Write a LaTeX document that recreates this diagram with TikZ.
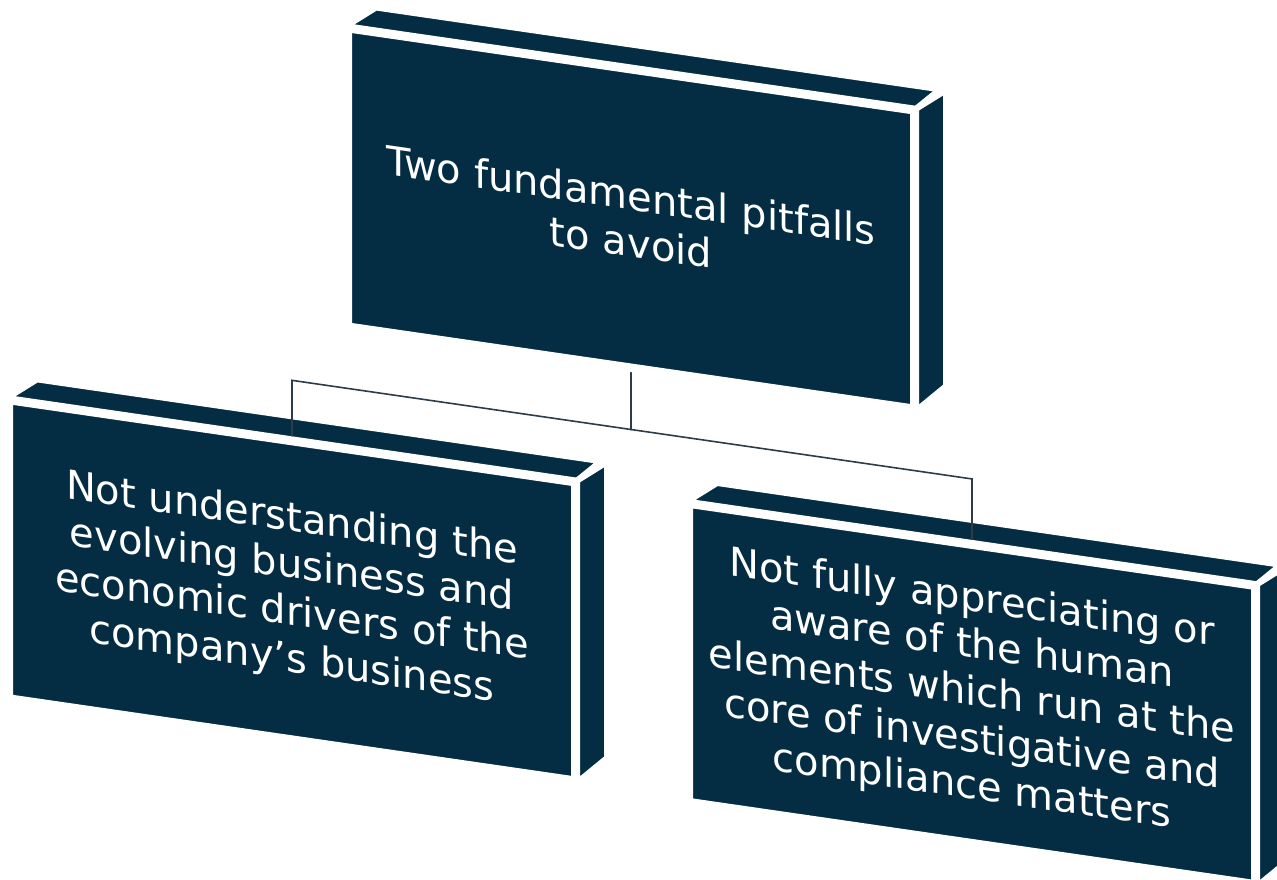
\documentclass[tikz,border=0pt]{standalone}
\usepackage{fontspec}
\setmainfont{DejaVu Sans}
\definecolor{navy}{RGB}{4,45,67}
\definecolor{linkgray}{RGB}{45,60,70}

\begin{document}
\begin{tikzpicture}[
    x=0.5pt, y=0.5pt,
    every node/.style={font=\fontsize{20}{23.5}\selectfont},
    box/.style={fill=navy, draw=white, line width=3pt, line join=round, text=white, align=center,
                minimum width=282pt, minimum height=148pt, transform shape},
    side/.style={fill=navy, draw=white, line width=3pt, line join=round},
    link/.style={draw=linkgray, line width=0.8pt, shorten <=1.5pt, shorten >=1.5pt}
]
\useasboundingbox (0,0) rectangle (1277,879);
\clip (0,0) rectangle (1277,879);

\begin{scope}[yslant=-0.145]

% top box
\node[box] (root) at (631,752) {Two fundamental pitfalls\\to avoid};
\draw[side] (root.north west) -- ++(30,23) -- ++(564,0) -- (root.north east) -- cycle;
\draw[side] (root.north east) -- ++(30,23) -- ++(0,-296) -- (root.south east) -- cycle;

% left box
\node[box] (biz) at (292,331) {Not understanding the\\evolving business and\\economic drivers of the\\company’s business};
\draw[side] (biz.north west) -- ++(30,23) -- ++(564,0) -- (biz.north east) -- cycle;
\draw[side] (biz.north east) -- ++(30,23) -- ++(0,-296) -- (biz.south east) -- cycle;

% right box
\node[box] (human) at (972,326) {Not fully appreciating or\\aware of the human\\elements which run at the\\core of investigative and\\compliance matters};
\draw[side] (human.north west) -- ++(30,23) -- ++(564,0) -- (human.north east) -- cycle;
\draw[side] (human.north east) -- ++(30,23) -- ++(0,-296) -- (human.south east) -- cycle;

% connectors
\coordinate (fork) at (631,541);
\draw[link] (root.south) -- (fork) -- ++(-339,0) -- (biz.north);
\draw[link] (root.south) -- (fork) -- ++(341,0) -- (human.north);

\end{scope}
\end{tikzpicture}
\end{document}
